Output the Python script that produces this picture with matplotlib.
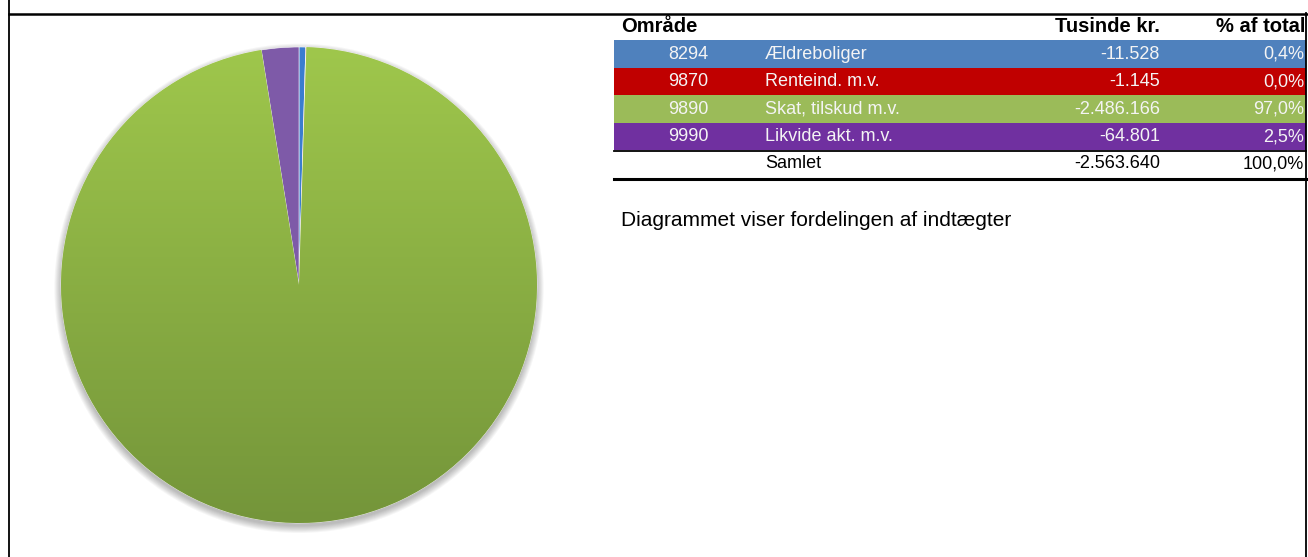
import numpy as np
import matplotlib
matplotlib.use("Agg")
import matplotlib.pyplot as plt
from matplotlib.colors import LinearSegmentedColormap
from matplotlib.patches import Circle, Rectangle

plt.rcParams["font.family"] = ["Liberation Sans", "DejaVu Sans"]

codes = ["8294", "9870", "9890", "9990"]
names = ["Ældreboliger", "Renteind. m.v.", "Skat, tilskud m.v.", "Likvide akt. m.v."]
amounts = [-11528, -1145, -2486166, -64801]
pct_labels = ["0,4%", "0,0%", "97,0%", "2,5%"]
total_amount = -2563640
total_pct = "100,0%"

row_colors = ["#4F81BD", "#C00000", "#9BBB59", "#7030A0"]
pie_colors = ["#3B7DCF", "#C9504A", "#9BC24A", "#7E5AA8"]


def dk(n):
    return f"{n:,}".replace(",", ".")


W, H = 1308, 557
fig = plt.figure(figsize=(W / 100, H / 100), dpi=100)

# pixel-coordinate overlay for frame + table
bg = fig.add_axes([0, 0, 1, 1])
bg.set_xlim(0, W)
bg.set_ylim(H, 0)
bg.axis("off")

bg.plot([9, 9], [0, H], color="black", lw=1.3)
bg.plot([1306, 1306], [13, H], color="black", lw=1.3)
bg.plot([9, W], [13.5, 13.5], color="black", lw=1.8)

# table
tx0, tx1 = 614, 1306
row_top, row_h = 40, 27.5
hfs, rfs = 14.5, 13
bg.text(621, 27, "Område", fontsize=hfs, fontweight="bold", va="center", ha="left")
bg.text(1160, 27, "Tusinde kr.", fontsize=hfs, fontweight="bold", va="center", ha="right")
bg.text(1305, 27, "% af total", fontsize=hfs, fontweight="bold", va="center", ha="right")

for i, (c, n, a, p) in enumerate(zip(codes, names, amounts, pct_labels)):
    y = row_top + i * row_h
    bg.add_patch(Rectangle((tx0, y), tx1 - tx0, row_h, color=row_colors[i], lw=0))
    yc = y + row_h / 2 + 0.5
    tc = "#F4F4F4"
    bg.text(688, yc, c, fontsize=rfs, color=tc, ha="center", va="center")
    bg.text(765, yc, n, fontsize=rfs, color=tc, ha="left", va="center")
    bg.text(1160, yc, dk(a), fontsize=rfs, color=tc, ha="right", va="center")
    bg.text(1304, yc, p, fontsize=rfs, color=tc, ha="right", va="center")

y_sum = row_top + 4 * row_h
bg.plot([tx0, tx1], [y_sum + 1, y_sum + 1], color="black", lw=1.3)
bg.text(765, y_sum + 14, "Samlet", fontsize=rfs, ha="left", va="center")
bg.text(1160, y_sum + 14, dk(total_amount), fontsize=rfs, ha="right", va="center")
bg.text(1304, y_sum + 14, total_pct, fontsize=rfs, ha="right", va="center")
bg.plot([tx0, tx1], [179, 179], color="black", lw=2.2)

bg.text(621, 221, "Diagrammet viser fordelingen af indtægter", fontsize=15,
        ha="left", va="center")

# pie: axes padded a little so the shadow is not clipped
cx, cy, r = 299, 285, 238
pad = 1.04
ax = fig.add_axes([(cx - r * pad) / W, (H - cy - r * pad) / H,
                   2 * r * pad / W, 2 * r * pad / H])
ax.axis("off")

# soft drop shadow
for k in range(8):
    ax.add_patch(Circle((0, -0.014), 1 + 0.004 * k, color="black",
                        alpha=0.035, lw=0, zorder=0))

wedges, _ = ax.pie([abs(a) for a in amounts], colors=pie_colors, startangle=90,
                   counterclock=False, radius=1,
                   wedgeprops=dict(edgecolor="white", linewidth=0.4))
for w in wedges:
    w.set_zorder(2)

# gradient fill for the large green slice
green = wedges[2]
cmap = LinearSegmentedColormap.from_list("g", ["#9FC74C", "#74953A"])
grad = np.linspace(0, 1, 256).reshape(-1, 1)
im = ax.imshow(grad, extent=(-1, 1, -1, 1), cmap=cmap, origin="upper",
               aspect="auto", zorder=3)
im.set_clip_path(green)
ax.set_xlim(-pad, pad)
ax.set_ylim(-pad, pad)

fig.savefig("out.png", dpi=100)
